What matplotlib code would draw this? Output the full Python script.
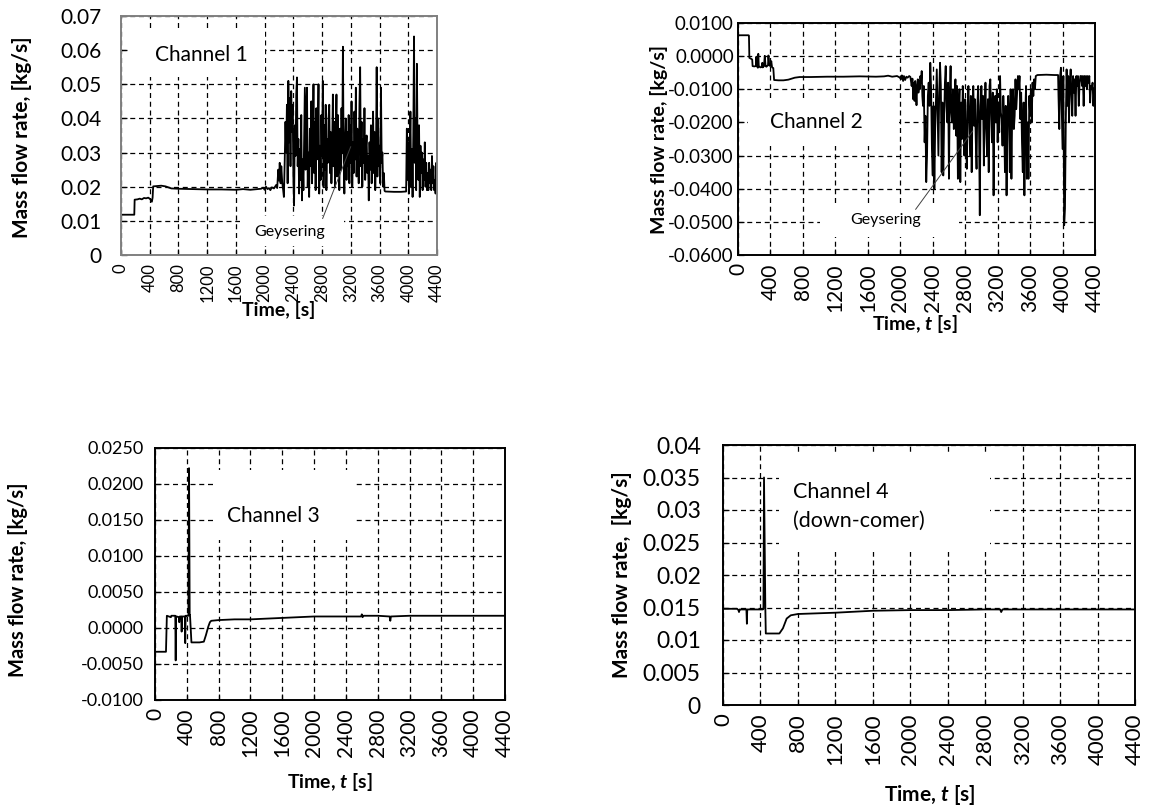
import numpy as np
import matplotlib
matplotlib.use("Agg")
import matplotlib.pyplot as plt
from matplotlib.patches import Rectangle

plt.rcParams['font.family'] = ['Lato', 'DejaVu Sans']
plt.rcParams['mathtext.fontset'] = 'custom'
plt.rcParams['mathtext.rm'] = 'Lato'
plt.rcParams['mathtext.bf'] = 'Lato:bold'
plt.rcParams['mathtext.bfit'] = 'Lato:italic:bold'

# ---------------- Channel 1 ----------------
t1_start = [0, 185, 190, 230, 260, 290, 320, 350, 380, 410, 430, 440, 448, 500, 560,
            620, 700, 800, 1000, 1200, 1400, 1600, 1700, 1800, 1900, 1950, 1980,
            2000, 2020, 2040, 2060, 2080, 2100, 2130, 2160, 2175, 2190, 2200, 2210,
            2222, 2232, 2245, 2258, 2268]
q1_start = [0.0118, 0.0118, 0.0162, 0.0163, 0.0165, 0.0163, 0.0167, 0.0166, 0.0168,
            0.0163, 0.0156, 0.0168, 0.0201, 0.0202, 0.0203, 0.0201, 0.0195, 0.0194,
            0.0193, 0.0192, 0.0192, 0.0191, 0.0193, 0.0191, 0.0193, 0.0194, 0.0197,
            0.0191, 0.0200, 0.0193, 0.0196, 0.0190, 0.0198, 0.0195, 0.0205, 0.0196,
            0.0250, 0.0218, 0.0270, 0.0210, 0.0260, 0.0212, 0.0190, 0.0170]
# geysering period, sampled every 10 s from 2280 s
q1_geyser = [
    0.028, 0.039, 0.030, 0.044, 0.021, 0.051, 0.033, 0.046, 0.026, 0.048,
    0.036, 0.044, 0.023, 0.0145, 0.038, 0.029, 0.047, 0.052, 0.026, 0.034,
    0.018, 0.031, 0.022, 0.041, 0.016, 0.028, 0.019, 0.035, 0.049, 0.025,
    0.042, 0.049, 0.020, 0.030, 0.017, 0.037, 0.026, 0.045, 0.021, 0.033,
    0.050, 0.024, 0.039, 0.019, 0.043, 0.028, 0.036, 0.050, 0.018, 0.032,
    0.022, 0.041, 0.029, 0.051, 0.020, 0.038, 0.025, 0.044, 0.019, 0.034,
    0.027, 0.040, 0.044, 0.024, 0.036, 0.021, 0.031, 0.047, 0.026, 0.039,
    0.020, 0.035, 0.047, 0.023, 0.041, 0.028, 0.019, 0.037, 0.025, 0.043,
    0.030, 0.061, 0.029, 0.018, 0.034, 0.040, 0.022, 0.036, 0.026, 0.041,
    0.021, 0.038, 0.027, 0.045, 0.020, 0.033, 0.024, 0.042, 0.028, 0.049,
    0.023, 0.037, 0.030, 0.021, 0.044, 0.055, 0.026, 0.039, 0.020, 0.034,
    0.027, 0.043, 0.022, 0.031, 0.035, 0.024, 0.029, 0.016, 0.033, 0.025,
    0.038, 0.021, 0.030, 0.042, 0.024, 0.036, 0.019, 0.028, 0.055, 0.023,
    0.040, 0.026, 0.032, 0.021, 0.049, 0.027, 0.030, 0.020, 0.024, 0.0188,
]
t1_flat = [3680, 3800, 3900, 3970]
q1_flat = [0.0186, 0.0185, 0.0185, 0.0186]
# second burst, sampled every 10 s from 3980 s
q1_burst = [
    0.037, 0.022, 0.033, 0.018, 0.029, 0.042, 0.020, 0.031, 0.017, 0.035,
    0.064, 0.027, 0.040, 0.019, 0.056, 0.030, 0.022, 0.038, 0.017, 0.032,
    0.024, 0.030, 0.019, 0.028, 0.022, 0.033, 0.020, 0.027, 0.019, 0.024,
    0.019, 0.027, 0.021, 0.025, 0.019, 0.029, 0.021, 0.026, 0.019, 0.022,
    0.018, 0.027, 0.022,
]

# ---------------- Channel 2 ----------------
t2_start = [0, 130, 135, 140, 160, 175, 180, 200, 220, 225, 232, 245, 250, 256, 275,
            290, 300, 305, 320, 330, 340, 350, 370, 375, 385, 400, 410, 420, 435,
            445, 500, 560, 620, 660, 700, 760, 900, 1100, 1300, 1500, 1700, 1800,
            1850, 1900, 1960, 1990, 2010, 2020, 2035, 2045, 2060, 2075, 2090, 2110,
            2125, 2140, 2150, 2160, 2168, 2176, 2184, 2192, 2200, 2208, 2216, 2224,
            2232, 2240, 2248, 2256, 2264, 2272]
q2_start = [0.0063, 0.0063, 0.0062, -0.0005, -0.0008, -0.0010, -0.0030, -0.0031,
            -0.0030, -0.0002, -0.0030, -0.0035, 0.0007, -0.0030, -0.0034, -0.0033,
            -0.0020, -0.0034, -0.0030, 0.0001, -0.0030, -0.0032, -0.0027, 0.0002,
            -0.0028, -0.0030, -0.0015, -0.0034, -0.0036, -0.0072, -0.0073, -0.0073,
            -0.0071, -0.0068, -0.0065, -0.0063, -0.0063, -0.0062, -0.0062, -0.0061,
            -0.0062, -0.0061, -0.0059, -0.0062, -0.0060, -0.0064, -0.0069, -0.0058,
            -0.0075, -0.0060, -0.0072, -0.0062, -0.0065, -0.0060, -0.0063, -0.0090,
            -0.0068, -0.0130, -0.0080, -0.0135, -0.0075, -0.0105, -0.0148, -0.0090,
            -0.0070, -0.0110, -0.0076, -0.0100, -0.0060, -0.0080, -0.0045, -0.0120]
# geysering period, sampled every 10 s from 2280 s
q2_geyser = [
    -0.0150, -0.0090, -0.0260, -0.0180, -0.0380, -0.0300, -0.0120, -0.0080, -0.0150, -0.0020,
    -0.0100, -0.0280, -0.0360, -0.0150, -0.0400, -0.0220, -0.0130, -0.0040, -0.0170, -0.0300,
    -0.0110, -0.0020, -0.0090, -0.0350, -0.0140, -0.0360, -0.0200, -0.0080, -0.0030, -0.0150,
    -0.0200, -0.0080, -0.0370, -0.0120, -0.0030, -0.0170, -0.0200, -0.0100, -0.0220, -0.0120,
    -0.0070, -0.0240, -0.0090, -0.0370, -0.0160, -0.0100, -0.0380, -0.0140, -0.0250, -0.0090,
    -0.0160, -0.0300, -0.0130, -0.0250, -0.0340, -0.0150, -0.0090, -0.0200, -0.0300, -0.0120,
    -0.0350, -0.0160, -0.0090, -0.0210, -0.0130, -0.0250, -0.0340, -0.0150, -0.0090, -0.0200,
    -0.0480, -0.0150, -0.0090, -0.0190, -0.0120, -0.0330, -0.0180, -0.0080, -0.0220, -0.0300,
    -0.0130, -0.0350, -0.0090, -0.0070, -0.0180, -0.0260, -0.0110, -0.0420, -0.0160, -0.0120,
    -0.0200, -0.0100, -0.0260, -0.0140, -0.0230, -0.0060, -0.0170, -0.0190, -0.0270, -0.0120,
    -0.0190, -0.0350, -0.0150, -0.0420, -0.0200, -0.0120, -0.0180, -0.0350, -0.0100, -0.0370,
    -0.0160, -0.0100, -0.0220, -0.0180, -0.0070, -0.0160, -0.0110, -0.0060, -0.0100, -0.0060,
    -0.0190, -0.0110, -0.0260, -0.0350, -0.0140, -0.0420, -0.0180, -0.0090, -0.0370, -0.0200,
    -0.0370, -0.0120, -0.0180, -0.0100, -0.0200, -0.0080, -0.0120, -0.0070, -0.0100, -0.0060,
]
t2_flat = [3690, 3800, 3900, 3945]
q2_flat = [-0.0057, -0.0056, -0.0057, -0.0057]
# second burst, sampled every 10 s from 3950 s
q2_burst = [
    -0.0120, -0.0220, -0.0060, -0.0035, -0.0150, -0.0280, -0.0060, -0.0510, -0.0460, -0.0200,
    -0.0040, -0.0150, -0.0060, -0.0200, -0.0080, -0.0040, -0.0120, -0.0180, -0.0060, -0.0110,
    -0.0070, -0.0180, -0.0060, -0.0090, -0.0060, -0.0150, -0.0080, -0.0060, -0.0060, -0.0090,
    -0.0060, -0.0150, -0.0060, -0.0090, -0.0060, -0.0100, -0.0060, -0.0080, -0.0060, -0.0140,
    -0.0090, -0.0100, -0.0080, -0.0150, -0.0100, -0.0090,
]

# ---------------- Channel 3 ----------------
t3 = [0, 138, 149, 200, 205, 255, 260, 265, 272, 300, 305, 312, 330, 335, 340, 375,
      380, 385, 395, 420, 428, 436, 440, 458, 500, 560, 614, 640, 670, 690, 707,
      800, 1000, 1200, 1600, 2000, 2400, 2590, 2600, 2610, 2620, 2800, 2950, 2958,
      2966, 3200, 3600, 4000, 4400]
q3 = [-0.0033, -0.0033, 0.0017, 0.0015, 0.0017, 0.0017, -0.0045, 0.0016, 0.0016,
      0.0015, 0.0008, 0.0016, 0.0016, -0.0005, 0.0016, 0.0016, -0.0021, 0.0017,
      0.0017, 0.0017, 0.0222, 0.0018, 0.0018, -0.0020, -0.0020, -0.0020, -0.0019,
      -0.0010, 0.0002, 0.0008, 0.0010, 0.0011, 0.0012, 0.0012, 0.0014, 0.0016,
      0.0016, 0.0016, 0.0019, 0.0015, 0.0017, 0.0017, 0.0016, 0.0010, 0.0016,
      0.0017, 0.0017, 0.0017, 0.0017]

# ---------------- Channel 4 ----------------
t4 = [0, 150, 165, 171, 178, 190, 250, 255, 259, 263, 300, 427, 432, 438, 452, 457,
      602, 640, 680, 724, 800, 1200, 1600, 2000, 2400, 2800, 2960, 2971, 2985,
      3200, 3600, 4000, 4400]
q4 = [0.0148, 0.0148, 0.0146, 0.0143, 0.0147, 0.0147, 0.0147, 0.0125, 0.0147,
      0.0147, 0.0147, 0.0147, 0.0148, 0.0350, 0.0150, 0.0110, 0.0110, 0.0118,
      0.0133, 0.0138, 0.0140, 0.0142, 0.0145, 0.0146, 0.0146, 0.0147, 0.0147,
      0.0143, 0.0147, 0.0147, 0.0147, 0.0147, 0.0147]

time_ticks = list(range(0, 4401, 400))

Y1_TICKS = [0, 0.01, 0.02, 0.03, 0.04, 0.05, 0.06, 0.07]
Y1_LABELS = ["0", "0.01", "0.02", "0.03", "0.04", "0.05", "0.06", "0.07"]
Y2_TICKS = [0.01, 0.0, -0.01, -0.02, -0.03, -0.04, -0.05, -0.06]
Y2_LABELS = ["0.0100", "0.0000", "-0.0100", "-0.0200", "-0.0300", "-0.0400",
             "-0.0500", "-0.0600"]
Y3_TICKS = [0.025, 0.02, 0.015, 0.01, 0.005, 0.0, -0.005, -0.01]
Y3_LABELS = ["0.0250", "0.0200", "0.0150", "0.0100", "0.0050", "0.0000",
             "-0.0050", "-0.0100"]
Y4_TICKS = [0, 0.005, 0.01, 0.015, 0.02, 0.025, 0.03, 0.035, 0.04]
Y4_LABELS = ["0", "0.005", "0.01", "0.015", "0.02", "0.025", "0.03", "0.035", "0.04"]


def series(start_t, start_q, g0, geyser, flat_t, flat_q, b0, burst):
    t = (list(start_t) + list(g0 + 10 * np.arange(len(geyser))) + list(flat_t)
         + list(b0 + 10 * np.arange(len(burst))))
    q = list(start_q) + list(geyser) + list(flat_q) + list(burst)
    return np.array(t, float), np.array(q, float)


t1, q1 = series(t1_start, q1_start, 2280, q1_geyser, t1_flat, q1_flat, 3980, q1_burst)
t2, q2 = series(t2_start, q2_start, 2280, q2_geyser, t2_flat, q2_flat, 3950, q2_burst)
t2 = np.clip(t2, 0, 4400)

W, H = 1150, 810
fig = plt.figure(figsize=(W / 100, H / 100), dpi=100)


def make_axes(x0, x1, top, bottom):
    return fig.add_axes([x0 / W, 1 - bottom / H, (x1 - x0) / W, (bottom - top) / H])


def style(ax, yticks, ylabels, ylim, ysize, xsize, ypad, spine_color="black"):
    ax.set_xlim(0, 4400)
    ax.set_ylim(*ylim)
    ax.set_xticks(time_ticks)
    ax.set_xticklabels([str(v) for v in time_ticks], rotation=90)
    ax.set_yticks(yticks)
    ax.set_yticklabels(ylabels)
    ax.set_axisbelow(True)
    ax.grid(True, color="black", linestyle=(0, (4, 3)), linewidth=0.9)
    ax.tick_params(direction="in", length=4, width=0.9, color="black")
    ax.tick_params(axis="y", labelsize=ysize, pad=ypad)
    ax.tick_params(axis="x", labelsize=xsize, pad=6)
    for s in ax.spines.values():
        s.set_color(spine_color)
        s.set_linewidth(1.4)


def white_box(ax, x0, x1, y0, y1):
    ax.add_patch(Rectangle((x0, y0), x1 - x0, y1 - y0, facecolor="white",
                           edgecolor="none", zorder=1.5))


line_kw = dict(color="black", linewidth=1.3, zorder=2)

# Channel 1
ax1 = make_axes(121, 437, 16, 255)
style(ax1, Y1_TICKS, Y1_LABELS, (0, 0.07), 15, 12, 14, spine_color="#808080")
ax1.plot(t1, q1, **line_kw)
white_box(ax1, 100, 2000, 0.052, 0.0655)
ax1.text(1114, 0.0585, "Channel 1", fontsize=15, ha="center", va="center", zorder=3)
white_box(ax1, 1650, 3100, 0.0025, 0.0115)
ax1.text(2346, 0.0066, "Geysering", fontsize=11.5, ha="center", va="center", zorder=3)
ax1.plot([2808, 3198], [0.0107, 0.0317], color="#404040", linewidth=0.7, zorder=3)

# Channel 2
ax2 = make_axes(738, 1095, 23, 255)
style(ax2, Y2_TICKS, Y2_LABELS, (-0.06, 0.01), 13.5, 15, 3)
ax2.plot(t2, q2, **line_kw)
white_box(ax2, 124, 1980, -0.0272, -0.013)
ax2.text(961, -0.0200, "Channel 2", fontsize=15, ha="center", va="center", zorder=3)
white_box(ax2, 1010, 2720, -0.0545, -0.0445)
ax2.text(1818, -0.0494, "Geysering", fontsize=11.5, ha="center", va="center", zorder=3)
ax2.plot([2190, 2893], [-0.0462, -0.0226], color="#404040", linewidth=0.7, zorder=3)

# Channel 3
ax3 = make_axes(155, 505, 448, 700)
style(ax3, Y3_TICKS, Y3_LABELS, (-0.01, 0.025), 13, 15, 8)
ax3.plot(t3, q3, **line_kw)
white_box(ax3, 760, 2510, 0.0122, 0.0219)
ax3.text(1483, 0.0155, "Channel 3", fontsize=15, ha="center", va="center", zorder=3)

# Channel 4
ax4 = make_axes(723, 1135, 445, 705)
style(ax4, Y4_TICKS, Y4_LABELS, (0, 0.04), 16.5, 16, 16)
ax4.plot(t4, q4, **line_kw)
white_box(ax4, 600, 2850, 0.0235, 0.0385)
ax4.text(748, 0.0328, "Channel 4", fontsize=15.5, ha="left", va="center", zorder=3)
ax4.text(748, 0.0284, "(down-comer)", fontsize=15.5, ha="left", va="center", zorder=3)

# axis titles
lab_kw = dict(fontweight="bold", ha="center", va="center")
fig.text(22 / W, 1 - 137 / H, "Mass flow rate, [kg/s]", rotation=90, fontsize=15, **lab_kw)
fig.text(659 / W, 1 - 140 / H, "Mass flow rate, [kg/s]", rotation=90, fontsize=14, **lab_kw)
fig.text(18 / W, 1 - 580 / H, "Mass flow rate, [kg/s]", rotation=90, fontsize=14.5, **lab_kw)
fig.text(622 / W, 1 - 575 / H, "Mass flow rate,  [kg/s]", rotation=90, fontsize=15, **lab_kw)
fig.text(279 / W, 1 - 310 / H, "Time, [s]", fontsize=14, **lab_kw)
fig.text(915 / W, 1 - 324 / H, r"Time, $\mathbfit{t}$ [s]", fontsize=14, **lab_kw)
fig.text(330 / W, 1 - 782 / H, r"Time, $\mathbfit{t}$ [s]", fontsize=14, **lab_kw)
fig.text(930 / W, 1 - 795 / H, r"Time, $\mathbfit{t}$ [s]", fontsize=15, **lab_kw)

fig.savefig("out.png", dpi=100, facecolor="white")
